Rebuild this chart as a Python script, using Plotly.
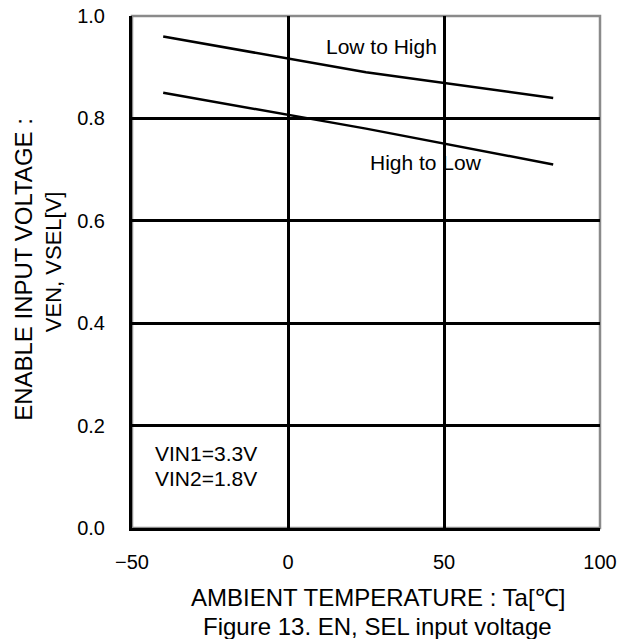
import plotly.graph_objects as go

temp_l2h = [-40, 25, 85]
ven_l2h = [0.96, 0.89, 0.84]
temp_h2l = [-40, 25, 85]
ven_h2l = [0.85, 0.78, 0.71]
x_ticks = [-50, 0, 50, 100]
x_tick_labels = ["\u221250", "0", "50", "100"]
y_ticks = [0.0, 0.2, 0.4, 0.6, 0.8, 1.0]
y_tick_labels = ["0.0", "0.2", "0.4", "0.6", "0.8", "1.0"]

FONT = "Liberation Sans, Arial, sans-serif"

fig = go.Figure()
fig.add_trace(go.Scatter(x=temp_l2h, y=ven_l2h, mode="lines",
                         line=dict(color="black", width=2.5), showlegend=False))
fig.add_trace(go.Scatter(x=temp_h2l, y=ven_h2l, mode="lines",
                         line=dict(color="black", width=2.5), showlegend=False))

fig.update_layout(
    width=637, height=639,
    margin=dict(l=132, r=37, t=16, b=111, autoexpand=False),
    paper_bgcolor="white", plot_bgcolor="white",
    font=dict(family=FONT, size=20, color="black"),
    xaxis=dict(range=[-50, 100], tickvals=x_ticks, ticktext=x_tick_labels,
               showgrid=True, gridcolor="black", gridwidth=2.5,
               showline=True, linecolor="black", linewidth=3,
               zeroline=False, ticks="", ticklen=0, ticklabelstandoff=14,
               automargin=False, tickfont=dict(size=20)),
    yaxis=dict(range=[0, 1.0], tickvals=y_ticks, ticktext=y_tick_labels,
               showgrid=True, gridcolor="black", gridwidth=2.5,
               showline=True, linecolor="black", linewidth=3,
               zeroline=False, ticks="", ticklen=0, ticklabelstandoff=20,
               automargin=False, tickfont=dict(size=20)),
    shapes=[dict(type="rect", xref="paper", yref="paper", x0=0, y0=0, x1=1, y1=1,
                 line=dict(color="#8a8a8a", width=2.5), layer="below")],
)

fig.add_annotation(x=30.1, y=0.94, text="Low to High", showarrow=False,
                   font=dict(size=21))
fig.add_annotation(x=44.2, y=0.714, text="High to Low", showarrow=False,
                   font=dict(size=21))
fig.add_annotation(x=-43.3, y=0.146, text="VIN1=3.3V", showarrow=False,
                   xanchor="left", font=dict(size=21))
fig.add_annotation(x=-43.3, y=0.096, text="VIN2=1.8V", showarrow=False,
                   xanchor="left", font=dict(size=21))

fig.add_annotation(xref="paper", yref="paper", x=-0.232, y=0.505,
                   text="ENABLE INPUT VOLTAGE :", textangle=-90, showarrow=False,
                   xanchor="center", yanchor="middle", font=dict(size=24))
fig.add_annotation(xref="paper", yref="paper", x=-0.168, y=0.52,
                   text="VEN, VSEL[V]", textangle=-90, showarrow=False,
                   xanchor="center", yanchor="middle", font=dict(size=22))
fig.add_annotation(xref="paper", yref="paper", x=0.525, y=-0.136,
                   text="AMBIENT TEMPERATURE : Ta[\u2103]", showarrow=False,
                   xanchor="center", yanchor="middle", font=dict(size=24))
fig.add_annotation(xref="paper", yref="paper", x=0.525, y=-0.192,
                   text="Figure 13. EN, SEL input voltage", showarrow=False,
                   xanchor="center", yanchor="middle", font=dict(size=24))

fig.write_html(
    "out.html",
    config={"displayModeBar": False},
    post_script="document.body.style.margin='0';"
                "document.documentElement.style.overflow='hidden';",
)
